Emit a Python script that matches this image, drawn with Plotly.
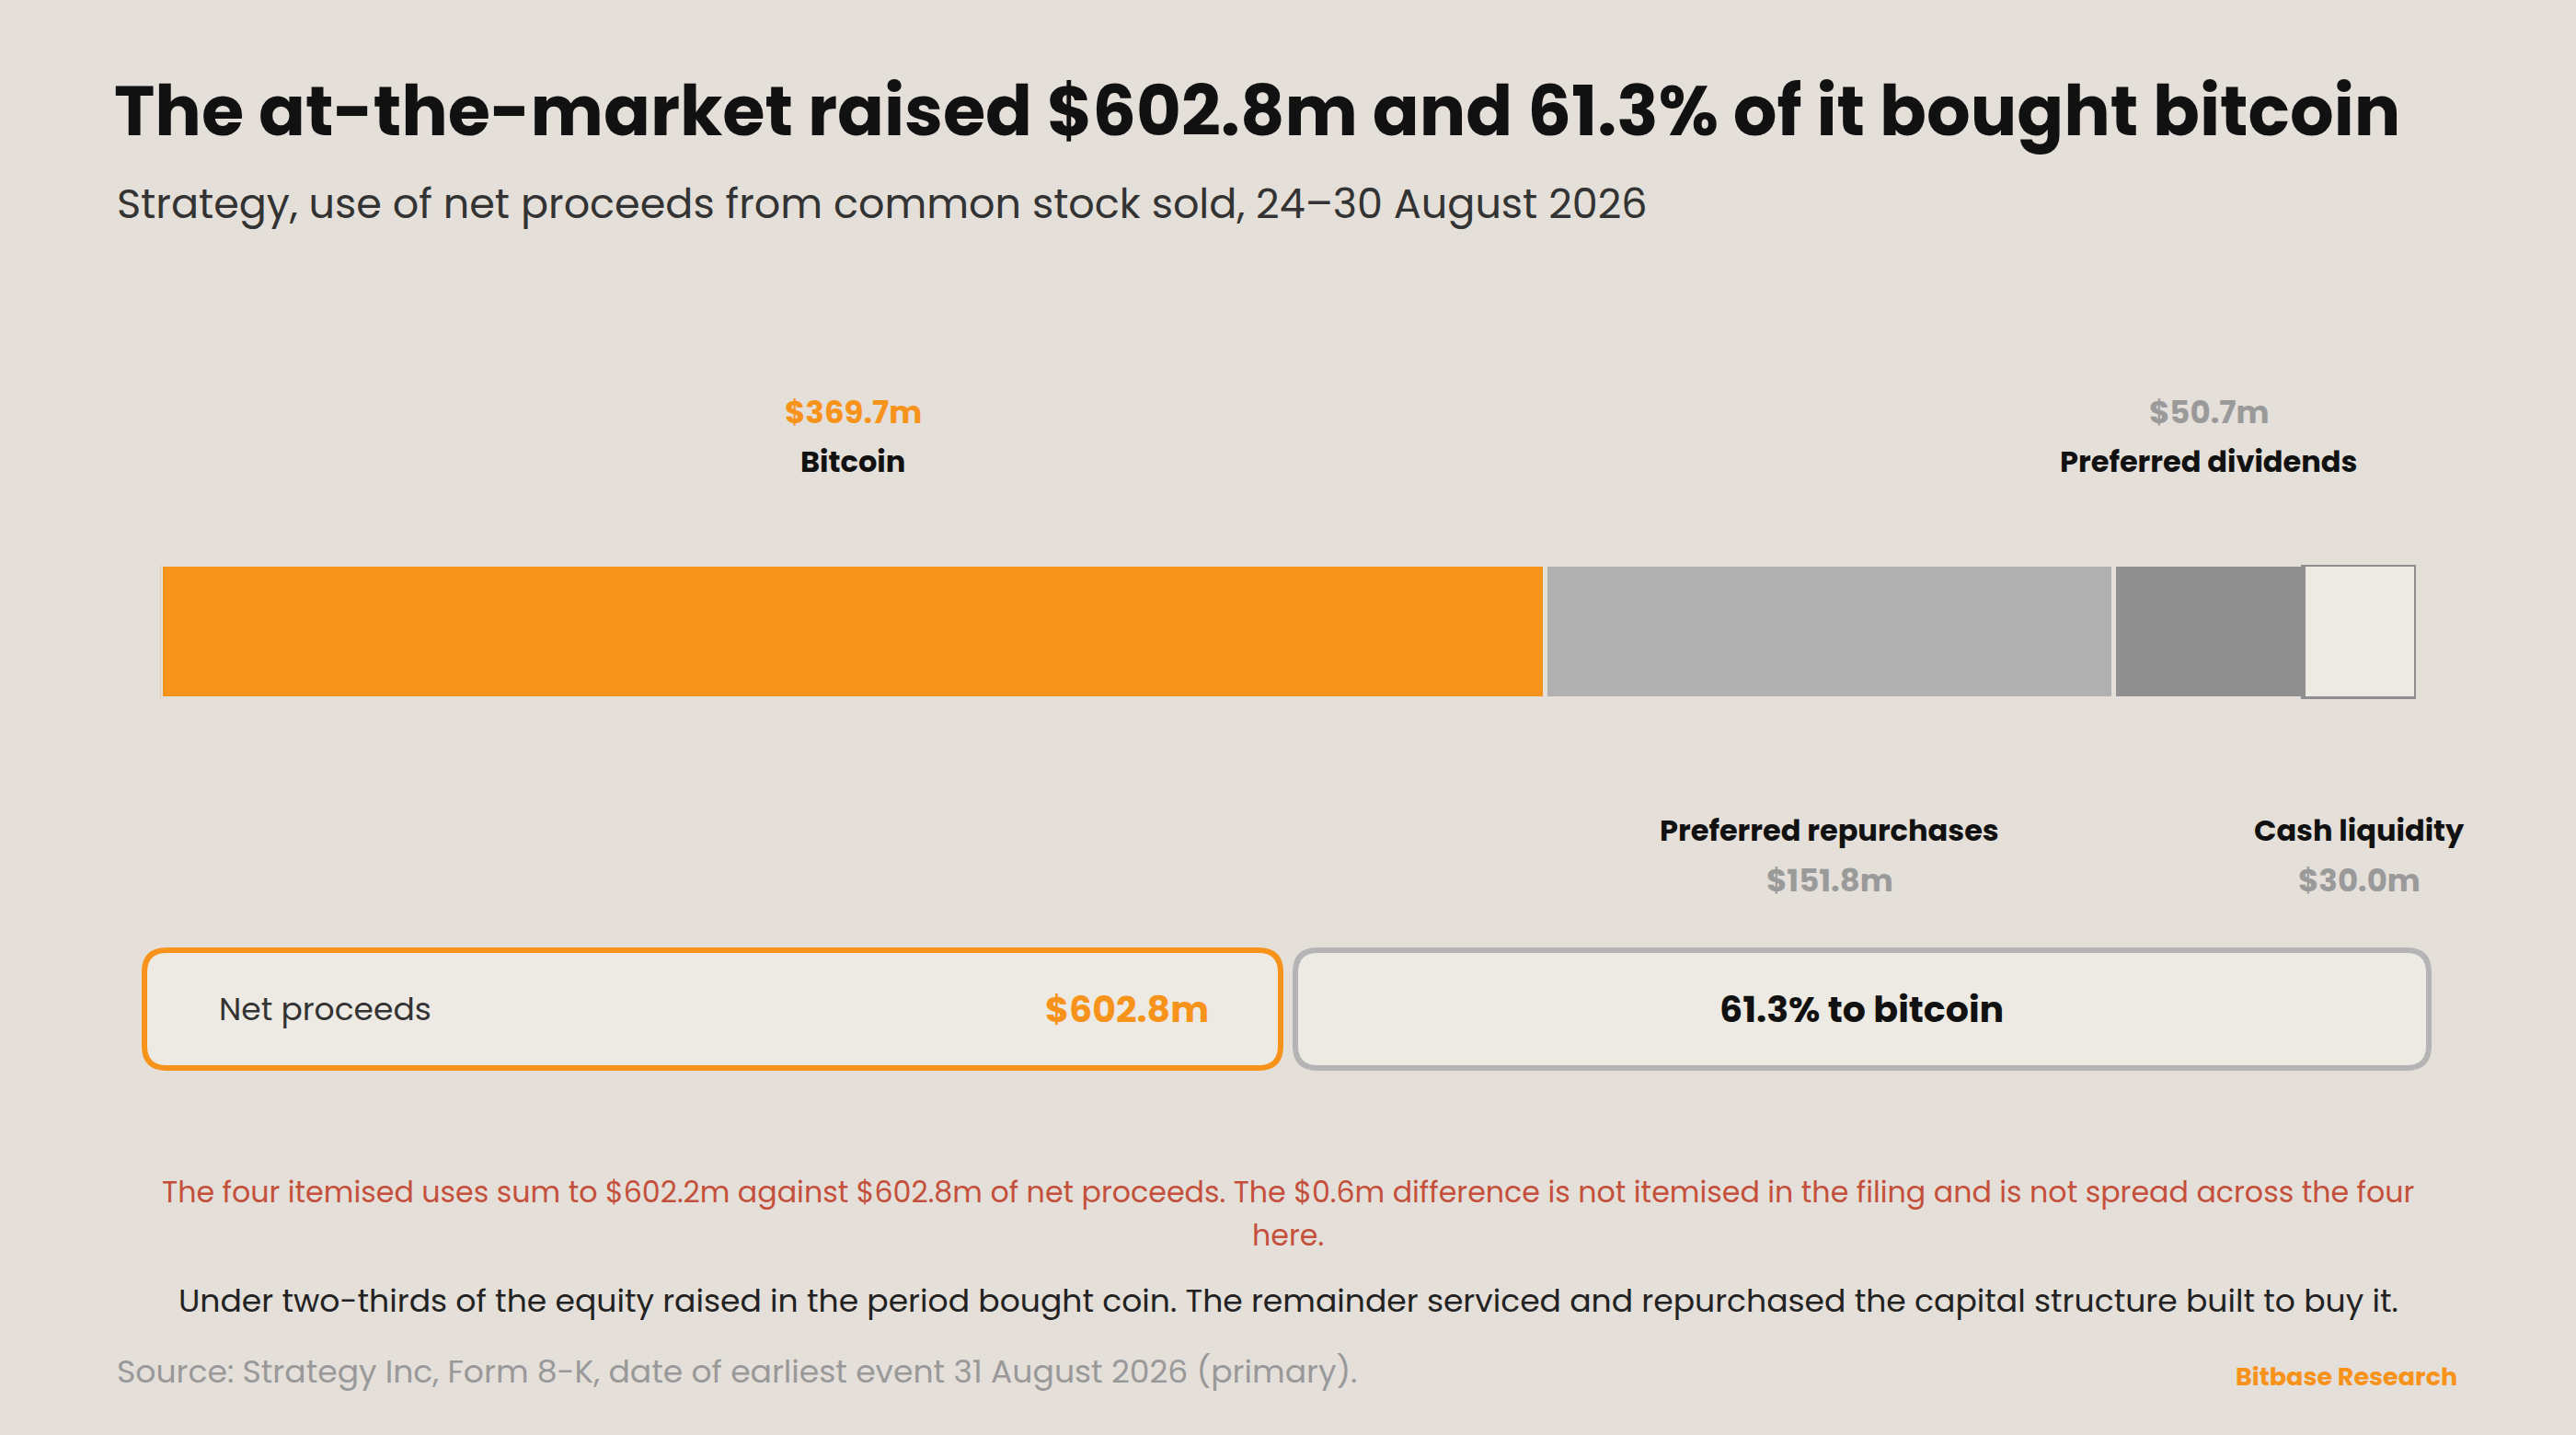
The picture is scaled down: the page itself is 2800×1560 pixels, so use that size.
import plotly.graph_objects as go

# --- dados ---
categories = ['Bitcoin', 'Preferred repurchases', 'Preferred dividends', 'Cash liquidity']
values = [369.7, 151.8, 50.7, 30.0]
net_proceeds = 602.8
colors = ['#F7931A', '#B1B1B1', '#8F8F8F', '#EDEAE4']
value_colors = ['#F7931A', '#9A9A9A', '#9A9A9A', '#9A9A9A']

title = 'The at-the-market raised $602.8m and 61.3% of it bought bitcoin'
subtitle = 'Strategy, use of net proceeds from common stock sold, 24\u201330 August 2026'
note_red = ['The four itemised uses sum to $602.2m against $602.8m of net proceeds. '
            'The $0.6m difference is not itemised in the filing and is not spread across the four',
            'here.']
note = ('Under two-thirds of the equity raised in the period bought coin. '
        'The remainder serviced and repurchased the capital structure built to buy it.')
source = 'Source: Strategy Inc, Form 8-K, date of earliest event 31 August 2026 (primary).'
brand = 'Bitbase Research'

W, H = 2800, 1560
BG = '#E4DFD9'
FONT = 'Poppins, Open Sans, sans-serif'
total = sum(values)
share_btc = values[0] / net_proceeds * 100


def px(x, y):
    # pixel -> paper
    return x / W, 1 - y / H


def rounded_box(x0, y0, x1, y1, r):
    def p(x, y):
        a, b = px(x, y)
        return f'{a:.5f},{b:.5f}'
    return (f'M {p(x0 + r, y0)} L {p(x1 - r, y0)} Q {p(x1, y0)} {p(x1, y0 + r)} '
            f'L {p(x1, y1 - r)} Q {p(x1, y1)} {p(x1 - r, y1)} L {p(x0 + r, y1)} '
            f'Q {p(x0, y1)} {p(x0, y1 - r)} L {p(x0, y0 + r)} Q {p(x0, y0)} {p(x0 + r, y0)} Z')


fig = go.Figure()
for i, (cat, val) in enumerate(zip(categories, values)):
    last = i == len(categories) - 1
    fig.add_trace(go.Bar(
        x=[val], y=[0], orientation='h', width=1, name=cat,
        marker=dict(color=colors[i],
                    line=dict(color='#8F8F8F' if last else BG, width=5)),
        hoverinfo='skip', showlegend=False,
    ))

annotations = []


def text(x, y, s, size, color, weight='normal', xanchor='left', xref='paper'):
    if xref == 'paper':
        xx, yy = px(x, y)
    else:
        xx, yy = x, px(0, y)[1]
    annotations.append(dict(x=xx, y=yy, xref=xref, yref='paper', text=s, showarrow=False,
                            xanchor=xanchor, yanchor='middle',
                            font=dict(family=FONT, size=size, color=color, weight=weight)))


text(122, 121, title, 75, '#111111', weight='bold')
text(125, 222, subtitle, 44.5, '#333333')

# rótulos dos segmentos, alternando acima/abaixo da barra
cum = 0
for i, (cat, val) in enumerate(zip(categories, values)):
    mid = cum + val / 2
    cum += val
    vtxt = f'${val:.1f}m'
    if i % 2 == 0:
        text(mid, 448, vtxt, 34, value_colors[i], weight='bold', xanchor='center', xref='x')
        text(mid, 502, cat, 32, '#111111', weight='bold', xanchor='center', xref='x')
    else:
        text(mid, 902, cat, 32, '#111111', weight='bold', xanchor='center', xref='x')
        text(mid, 957, vtxt, 34, value_colors[i], weight='bold', xanchor='center', xref='x')

# caixas inferiores
shapes = [
    dict(type='path', xref='paper', yref='paper', path=rounded_box(157, 1033, 1392, 1161, 24),
         fillcolor='#EDEAE4', line=dict(color='#F7931A', width=6)),
    dict(type='path', xref='paper', yref='paper', path=rounded_box(1408, 1033, 2640, 1161, 24),
         fillcolor='#EDEAE4', line=dict(color='#B4B4B4', width=6)),
]
text(236, 1097, 'Net proceeds', 34.5, '#333333')
text(1316, 1097, f'${net_proceeds:.1f}m', 39.5, '#F7931A', weight='bold', xanchor='right')
text(2023, 1097, f'{share_btc:.1f}% to bitcoin', 39.5, '#111111', weight='bold', xanchor='center')

text(1400, 1296, note_red[0], 31.7, '#C4503C', xanchor='center')
text(1400, 1343, note_red[1], 31.7, '#C4503C', xanchor='center')
text(1400, 1414, note, 34.6, '#222222', xanchor='center')
text(125, 1491, source, 34.6, '#999999')
text(2673, 1496, brand, 27, '#F7931A', weight='bold', xanchor='right')

fig.update_layout(
    width=W, height=H, margin=dict(l=0, r=0, t=0, b=0),
    paper_bgcolor=BG, plot_bgcolor=BG,
    barmode='stack', bargap=0,
    xaxis=dict(domain=[174.5 / W, 2626 / W], range=[0, total], visible=False, fixedrange=True),
    yaxis=dict(domain=[1 - 760 / H, 1 - 614 / H], range=[-0.5, 0.5], visible=False, fixedrange=True),
    annotations=annotations, shapes=shapes,
)

fig.write_html('out.html', config={'displayModeBar': False},
               post_script="document.body.style.margin='0';")
